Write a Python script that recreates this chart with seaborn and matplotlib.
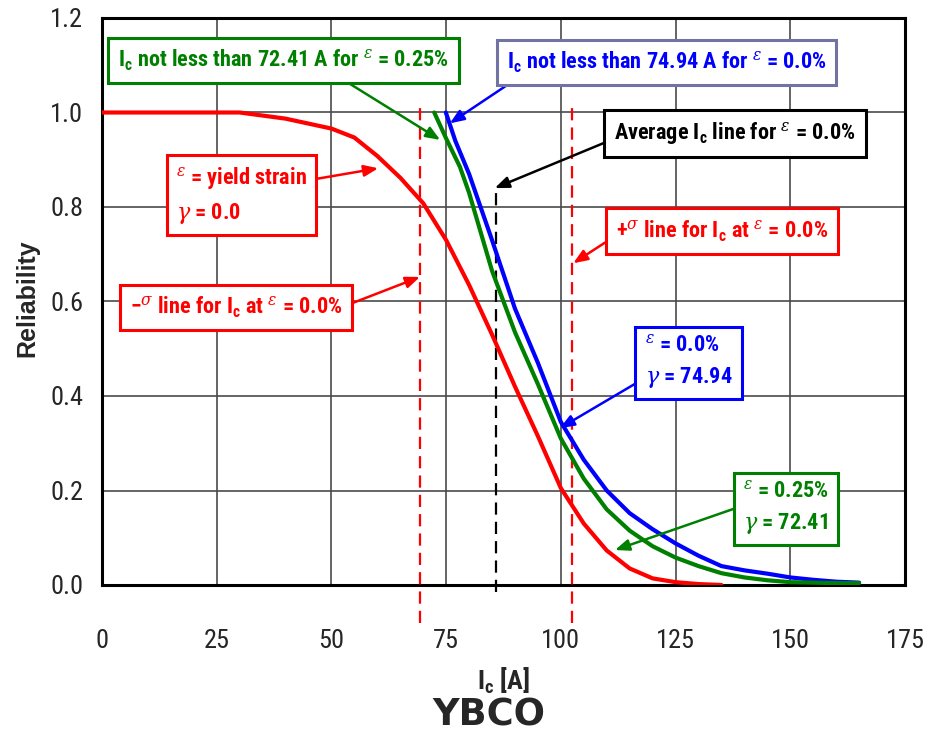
import numpy as np
import pandas as pd
import seaborn as sns
import matplotlib
matplotlib.use("Agg")
import matplotlib.pyplot as plt
from matplotlib import font_manager as fm
from matplotlib.ticker import MultipleLocator, FormatStrFormatter

# ---------------- data ----------------
red_x = [0, 10, 20, 30, 40, 50, 55, 60, 65, 70, 75, 80, 85, 90, 95, 100, 105, 110, 115, 120, 125, 130, 135]
red_y = [1.0, 1.0, 1.0, 1.0, 0.987, 0.966, 0.947, 0.908, 0.862, 0.808, 0.730, 0.635, 0.530, 0.420, 0.315,
         0.205, 0.130, 0.073, 0.035, 0.014, 0.006, 0.002, 0.0]

blue_x = [74.94, 77, 80, 85, 90, 95, 100, 105, 110, 115, 120, 125, 130, 135, 140, 145, 150, 155, 160, 165]
blue_y = [1.0, 0.94, 0.87, 0.73, 0.585, 0.47, 0.345, 0.265, 0.20, 0.152, 0.118, 0.088, 0.062, 0.040,
          0.031, 0.024, 0.016, 0.011, 0.007, 0.005]

green_x = [72.41, 75, 78, 80, 85, 90, 95, 100, 105, 110, 115, 120, 125, 130, 135, 140, 145, 150, 155, 160, 165]
green_y = [1.0, 0.945, 0.885, 0.83, 0.665, 0.535, 0.425, 0.31, 0.225, 0.16, 0.115, 0.082, 0.058, 0.040,
           0.025, 0.016, 0.010, 0.006, 0.005, 0.004, 0.004]

series_names = ["yield", "eps0", "eps025"]
series_colors = ["#FF0000", "#0000FF", "#008000"]

ic_mean = 85.9      # average Ic at eps = 0.0 %
ic_sigma = 16.6     # standard deviation

x_ticks = [0, 25, 50, 75, 100, 125, 150, 175]
y_ticks = [0.0, 0.2, 0.4, 0.6, 0.8, 1.0, 1.2]

# ---------------- fonts ----------------
avail = {f.name for f in fm.fontManager.ttflist}
NARROW = None
for cand in ["Liberation Sans Narrow", "Arial Narrow", "DejaVu Sans Condensed", "Roboto Condensed",
             "Open Sans Condensed", "Noto Sans Condensed", "Noto Sans Display Condensed"]:
    if cand in avail:
        NARROW = cand
        break
IS_NARROW = NARROW is not None
if NARROW is None:
    NARROW = "Liberation Sans" if "Liberation Sans" in avail else "DejaVu Sans"
ARIAL = "Liberation Sans" if "Liberation Sans" in avail else "DejaVu Sans"
k = 1.0 if IS_NARROW else 0.84   # size compensation for wider fonts

sns.set_style("white")
plt.rcParams["font.family"] = [NARROW, "DejaVu Sans"]
plt.rcParams["mathtext.fontset"] = "custom"
plt.rcParams["mathtext.rm"] = f"{NARROW}:bold"
plt.rcParams["mathtext.it"] = "DejaVu Serif:italic"
plt.rcParams["mathtext.bf"] = f"{NARROW}:bold"

df = pd.concat([
    pd.DataFrame({"Ic": red_x, "R": red_y, "series": series_names[0]}),
    pd.DataFrame({"Ic": blue_x, "R": blue_y, "series": series_names[1]}),
    pd.DataFrame({"Ic": green_x, "R": green_y, "series": series_names[2]}),
], ignore_index=True)

fig = plt.figure(figsize=(9.41, 7.37), dpi=100)
ax = fig.add_axes([102 / 941, (737 - 585) / 737, 803 / 941, 567 / 737])

ax.set_xlim(x_ticks[0], x_ticks[-1])
ax.set_ylim(y_ticks[0], y_ticks[-1])
ax.xaxis.set_major_locator(MultipleLocator(25))
ax.xaxis.set_minor_locator(MultipleLocator(5))
ax.yaxis.set_major_locator(MultipleLocator(0.2))
ax.yaxis.set_minor_locator(MultipleLocator(0.04))
ax.yaxis.set_major_formatter(FormatStrFormatter("%.1f"))
ax.grid(True, which="major", color="#4a4a4a", lw=1.2)
ax.set_axisbelow(True)
for s in ax.spines.values():
    s.set_color("black")
    s.set_linewidth(2.2)

TS = 19 * (1.0 if IS_NARROW else 0.92)
ax.tick_params(axis="x", which="both", direction="out", width=1.8, labelsize=TS, pad=24)
ax.tick_params(axis="x", which="major", length=8)
ax.tick_params(axis="x", which="minor", length=7)
ax.tick_params(axis="y", which="both", direction="inout", width=1.8, labelsize=TS, pad=8)
ax.tick_params(axis="y", which="major", length=11)
ax.tick_params(axis="y", which="minor", length=8)

# vertical reference lines (mean and +/- sigma)
for xv, col, y0, top in [(ic_mean - ic_sigma, "#FF0000", -0.08, 1.02),
                         (ic_mean + ic_sigma, "#FF0000", -0.08, 1.02),
                         (ic_mean, "black", -0.015, 0.836)]:
    ax.plot([xv, xv], [y0, top], color=col, lw=1.6, dashes=(5.5, 3.2), clip_on=False, zorder=3)

sns.lineplot(data=df, x="Ic", y="R", hue="series", palette=dict(zip(series_names, series_colors)),
             lw=3.0, legend=False, sort=False, estimator=None, ax=ax, zorder=4)

ax.set_xlabel(r"I$_\mathregular{c}$ [A]", fontsize=19 * (1.0 if IS_NARROW else 0.92),
              fontweight="bold", family=[NARROW])
ax.xaxis.set_label_coords(0.5, -0.143)
ax.set_ylabel("Reliability", fontsize=18, fontweight="bold", family=[ARIAL])
ax.yaxis.set_label_coords(-0.078, 0.505)
fig.text(489 / 941, 1 - 715 / 737, "YBCO", fontsize=26.5, fontweight="bold", family=["DejaVu Sans"],
         ha="center", va="center")

FS = 16.0 * k


def box(x, y, text, tcol, ecol, ls=1.0, padw=0.42):
    ax.text(x, y, text, color=tcol, fontsize=FS, fontweight="bold", ha="center", va="center",
            multialignment="left", linespacing=ls, zorder=6,
            bbox=dict(boxstyle=f"square,pad={padw}", fc="white", ec=ecol, lw=2.2))


def arrow(x0, y0, x1, y1, col):
    ax.annotate("", xy=(x1, y1), xytext=(x0, y0), zorder=5,
                arrowprops=dict(arrowstyle="-|>,head_length=0.85,head_width=0.34", color=col, lw=1.8,
                                shrinkA=0, shrinkB=0))


E = r"$^{\varepsilon}$"
IC = r"I$_\mathregular{c}$"
G = r"$\gamma$"
S = r"$^{\sigma}$"

arrow(53.3, 1.065, 73.7, 0.942, "#008000")
box(39.55, 1.110, f"{IC} not less than 72.41 A for {E} = 0.25%", "#008000", "#008000", padw=0.45)

arrow(88.9, 1.062, 75.8, 0.977, "#0000FF")
box(123.0, 1.106, f"{IC} not less than 74.94 A for {E} = 0.0%", "#0000FF", "#7373A3", padw=0.45)

arrow(110.0, 0.938, 85.6, 0.840, "black")
box(137.9, 0.956, f"Average {IC} line for {E} = 0.0%", "black", "black", padw=0.45)

arrow(110.0, 0.727, 102.7, 0.681, "#FF0000")
box(135.1, 0.749, f"+{S} line for {IC} at {E} = 0.0%", "#FF0000", "#FF0000", padw=0.45)

arrow(46.4, 0.859, 60.2, 0.882, "#FF0000")
box(30.4, 0.825, f"{E} = yield strain\n{G} = 0.0", "#FF0000", "#FF0000", ls=1.5)

arrow(54.4, 0.596, 69.3, 0.652, "#FF0000")
box(29.2, 0.587, f"\u2212{S} line for {IC} at {E} = 0.0%", "#FF0000", "#FF0000", padw=0.45)

arrow(117.6, 0.434, 99.8, 0.332, "#0000FF")
box(127.8, 0.472, f"{E} = 0.0%\n{G} = 74.94", "#0000FF", "#0000FF", ls=1.5)

arrow(137.9, 0.162, 111.8, 0.074, "#008000")
box(149.1, 0.163, f"{E} = 0.25%\n{G} = 72.41", "#008000", "#008000", ls=1.5)

fig.savefig("out.png", dpi=100)
